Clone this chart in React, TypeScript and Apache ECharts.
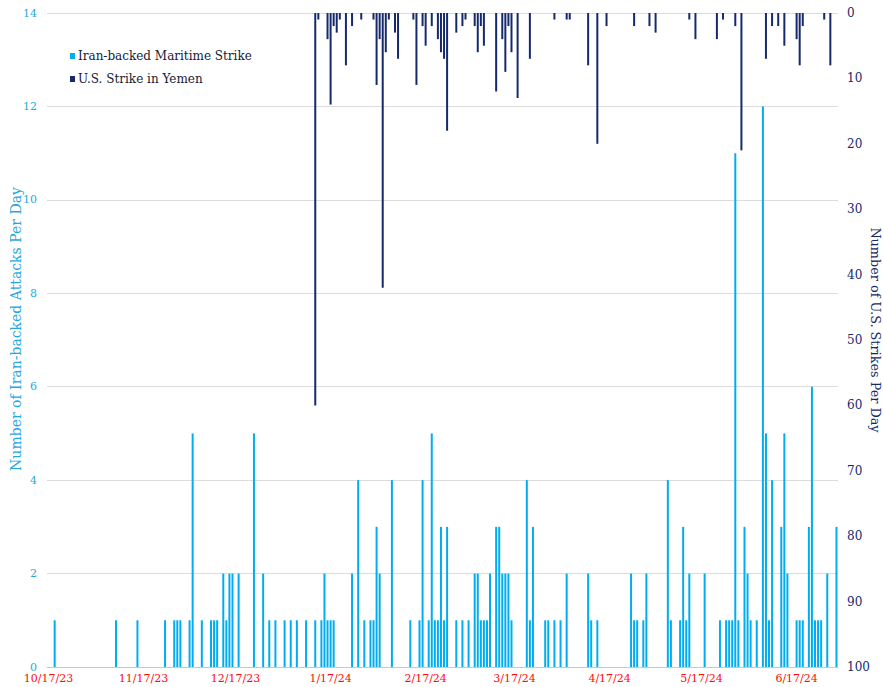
import React, { useEffect, useRef } from "react";
import * as echarts from "echarts";

// Axis range (one category per day)
const startDate = "2023-10-17";
const endDate = "2024-06-30";

// Iran-backed maritime strikes per day (only days with attacks)
const iranDates = [
  "2023-10-19", "2023-11-08", "2023-11-15", "2023-11-24", "2023-11-27", "2023-11-28", "2023-11-29",
  "2023-12-02", "2023-12-03", "2023-12-06", "2023-12-09", "2023-12-10", "2023-12-11", "2023-12-13",
  "2023-12-14", "2023-12-15", "2023-12-16", "2023-12-18", "2023-12-23", "2023-12-26", "2023-12-28",
  "2023-12-30", "2024-01-02", "2024-01-04", "2024-01-06", "2024-01-09", "2024-01-12", "2024-01-14",
  "2024-01-15", "2024-01-16", "2024-01-17", "2024-01-18", "2024-01-24", "2024-01-26", "2024-01-28",
  "2024-01-30", "2024-01-31", "2024-02-01", "2024-02-02", "2024-02-06", "2024-02-12", "2024-02-15",
  "2024-02-16", "2024-02-18", "2024-02-19", "2024-02-20", "2024-02-21", "2024-02-22", "2024-02-23",
  "2024-02-24", "2024-02-27", "2024-02-29", "2024-03-02", "2024-03-04", "2024-03-05", "2024-03-06",
  "2024-03-07", "2024-03-08", "2024-03-09", "2024-03-11", "2024-03-12", "2024-03-13", "2024-03-14",
  "2024-03-15", "2024-03-16", "2024-03-21", "2024-03-22", "2024-03-23", "2024-03-27", "2024-03-28",
  "2024-03-30", "2024-04-01", "2024-04-03", "2024-04-10", "2024-04-11", "2024-04-13", "2024-04-24",
  "2024-04-25", "2024-04-26", "2024-04-28", "2024-04-29", "2024-05-06", "2024-05-07", "2024-05-10",
  "2024-05-11", "2024-05-12", "2024-05-13", "2024-05-18", "2024-05-23", "2024-05-25", "2024-05-26",
  "2024-05-27", "2024-05-28", "2024-05-29", "2024-05-31", "2024-06-01", "2024-06-02", "2024-06-04",
  "2024-06-06", "2024-06-07", "2024-06-08", "2024-06-09", "2024-06-12", "2024-06-13", "2024-06-14",
  "2024-06-17", "2024-06-18", "2024-06-19", "2024-06-21", "2024-06-22", "2024-06-23", "2024-06-24",
  "2024-06-25", "2024-06-27", "2024-06-30",
];
const iranCounts = [
  1, 1, 1, 1, 1, 1, 1,
  1, 5, 1, 1, 1, 1, 2,
  1, 2, 2, 2, 5, 2, 1,
  1, 1, 1, 1, 1, 1, 1,
  2, 1, 1, 1, 2, 4, 1,
  1, 1, 3, 2, 4, 1, 1,
  4, 1, 5, 1, 1, 3, 1,
  3, 1, 1, 1, 2, 2, 1,
  1, 1, 2, 3, 3, 2, 2,
  2, 1, 4, 1, 3, 1, 1,
  1, 1, 2, 2, 1, 1, 2,
  1, 1, 1, 2, 4, 1, 1,
  3, 1, 2, 2, 1, 1, 1,
  1, 11, 1, 3, 2, 1, 1,
  12, 5, 1, 4, 3, 5, 2,
  1, 1, 1, 3, 6, 1, 1,
  1, 2, 3,
];

// U.S. strikes in Yemen per day (only days with strikes)
const usDates = [
  "2024-01-12", "2024-01-13", "2024-01-16", "2024-01-17", "2024-01-18", "2024-01-19", "2024-01-20",
  "2024-01-22", "2024-01-24", "2024-01-27", "2024-01-31", "2024-02-01", "2024-02-02", "2024-02-03",
  "2024-02-04", "2024-02-05", "2024-02-07", "2024-02-08", "2024-02-13", "2024-02-14", "2024-02-16",
  "2024-02-17", "2024-02-19", "2024-02-21", "2024-02-22", "2024-02-23", "2024-02-24", "2024-02-27",
  "2024-02-29", "2024-03-01", "2024-03-04", "2024-03-05", "2024-03-06", "2024-03-07", "2024-03-11",
  "2024-03-13", "2024-03-14", "2024-03-15", "2024-03-16", "2024-03-18", "2024-03-22", "2024-03-30",
  "2024-04-03", "2024-04-04", "2024-04-10", "2024-04-13", "2024-04-16", "2024-04-25", "2024-04-30",
  "2024-05-02", "2024-05-13", "2024-05-15", "2024-05-22", "2024-05-24", "2024-05-28", "2024-05-30",
  "2024-06-07", "2024-06-09", "2024-06-11", "2024-06-13", "2024-06-17", "2024-06-18", "2024-06-19",
  "2024-06-26", "2024-06-28",
];
const usCounts = [
  60, 1, 4, 14, 2, 3, 1,
  8, 2, 1, 1, 11, 4, 42,
  6, 1, 3, 7, 1, 11, 2,
  5, 2, 4, 6, 7, 18, 3,
  2, 1, 2, 6, 2, 5, 12,
  4, 9, 2, 6, 13, 7, 1,
  1, 1, 8, 20, 2, 2, 2,
  3, 1, 4, 4, 1, 2, 21,
  7, 2, 2, 5, 4, 8, 2,
  1, 8,
];

const seriesNames = ["Iran-backed Maritime Strike", "U.S. Strike in Yemen"];
const leftTicks = { min: 0, max: 14, interval: 2 };
const rightTicks = { min: 0, max: 100, interval: 10 };

const LIGHT = "#00adef";
const NAVY = "#15296b";
const FONT = "DejaVu Serif";

function buildDays(start: string, end: string): string[] {
  const out: string[] = [];
  const d = new Date(start + "T00:00:00Z");
  const e = new Date(end + "T00:00:00Z");
  while (d.getTime() <= e.getTime()) {
    out.push(d.toISOString().slice(0, 10));
    d.setUTCDate(d.getUTCDate() + 1);
  }
  return out;
}

function fmt(iso: string): string {
  const [y, m, d] = iso.split("-");
  return `${parseInt(m, 10)}/${parseInt(d, 10)}/${y.slice(2)}`;
}

export default function App() {
  const ref = useRef<HTMLDivElement>(null);

  useEffect(() => {
    if (!ref.current) return;
    const chart = echarts.init(ref.current, null, { renderer: "svg" });
    const days = buildDays(startDate, endDate);
    const iranMap: Record<string, number> = {};
    iranDates.forEach((d, i) => (iranMap[d] = iranCounts[i]));
    const usMap: Record<string, number> = {};
    usDates.forEach((d, i) => (usMap[d] = usCounts[i]));
    const iranData = days.map((d) => iranMap[d] ?? 0);
    const usData = days.map((d) => usMap[d] ?? 0);
    const isLabelDay = (_i: number, v: string) => v.endsWith("-17");

    chart.setOption({
      animation: false,
      backgroundColor: "#ffffff",
      grid: { left: 47, right: 45, top: 13, bottom: 20, containLabel: false, outerBoundsMode: "none" },
      legend: {
        orient: "vertical",
        left: 70,
        top: 50,
        itemWidth: 5,
        itemHeight: 6,
        itemGap: 11,
        icon: "rect",
        padding: 0,
        textStyle: { fontFamily: FONT, fontSize: 12, color: "#161a33", padding: [0, 0, 0, -2] },
        data: seriesNames,
      },
      xAxis: {
        type: "category",
        data: days,
        boundaryGap: true,
        axisLine: { lineStyle: { color: "#c8c8c8", width: 1 } },
        axisTick: {
          alignWithLabel: true,
          interval: isLabelDay,
          length: 4,
          lineStyle: { color: "#c8c8c8" },
        },
        axisLabel: {
          interval: isLabelDay,
          formatter: (v: string) => fmt(v),
          color: "#ff0a0a",
          fontFamily: FONT,
          fontSize: 11,
          lineHeight: 11,
          margin: 6,
        },
        splitLine: { show: false },
      },
      yAxis: [
        {
          type: "value",
          ...leftTicks,
          position: "left",
          name: "Number of Iran-backed Attacks Per Day",
          nameLocation: "middle",
          nameGap: 24,
          nameMoveOverlap: false,
          nameTextStyle: {
            color: "#1fa9e1",
            fontFamily: FONT,
            fontSize: 14,
            padding: [0, 0, 0, 22],
          },
          axisLine: { show: false },
          axisTick: { show: false },
          axisLabel: { color: "#1fa9e1", fontFamily: FONT, fontSize: 11, lineHeight: 11, margin: 10 },
          splitLine: { lineStyle: { color: "#dcdcdc", width: 1 } },
        },
        {
          type: "value",
          ...rightTicks,
          position: "right",
          inverse: true,
          name: "Number of U.S. Strikes Per Day",
          nameLocation: "middle",
          nameRotate: -90,
          nameGap: 31,
          nameMoveOverlap: false,
          nameTextStyle: {
            color: NAVY,
            fontFamily: FONT,
            fontSize: 12.8,
            padding: [0, 20, 0, 0],
          },
          axisLine: { show: false },
          axisTick: { show: false },
          axisLabel: { color: NAVY, fontFamily: FONT, fontSize: 12, margin: 9 },
          splitLine: { show: false },
        },
      ],
      series: [
        {
          name: seriesNames[0],
          type: "bar",
          xAxisIndex: 0,
          yAxisIndex: 0,
          data: iranData,
          barWidth: 2,
          barGap: "-100%",
          itemStyle: { color: LIGHT },
        },
        {
          name: seriesNames[1],
          type: "bar",
          xAxisIndex: 0,
          yAxisIndex: 1,
          data: usData,
          barWidth: 2,
          barGap: "-100%",
          itemStyle: { color: NAVY },
        },
      ],
    });
    return () => chart.dispose();
  }, []);

  return (
    <div
      ref={ref}
      style={{ position: "fixed", left: 0, top: 0, width: 883, height: 687, background: "#fff" }}
    />
  );
}
